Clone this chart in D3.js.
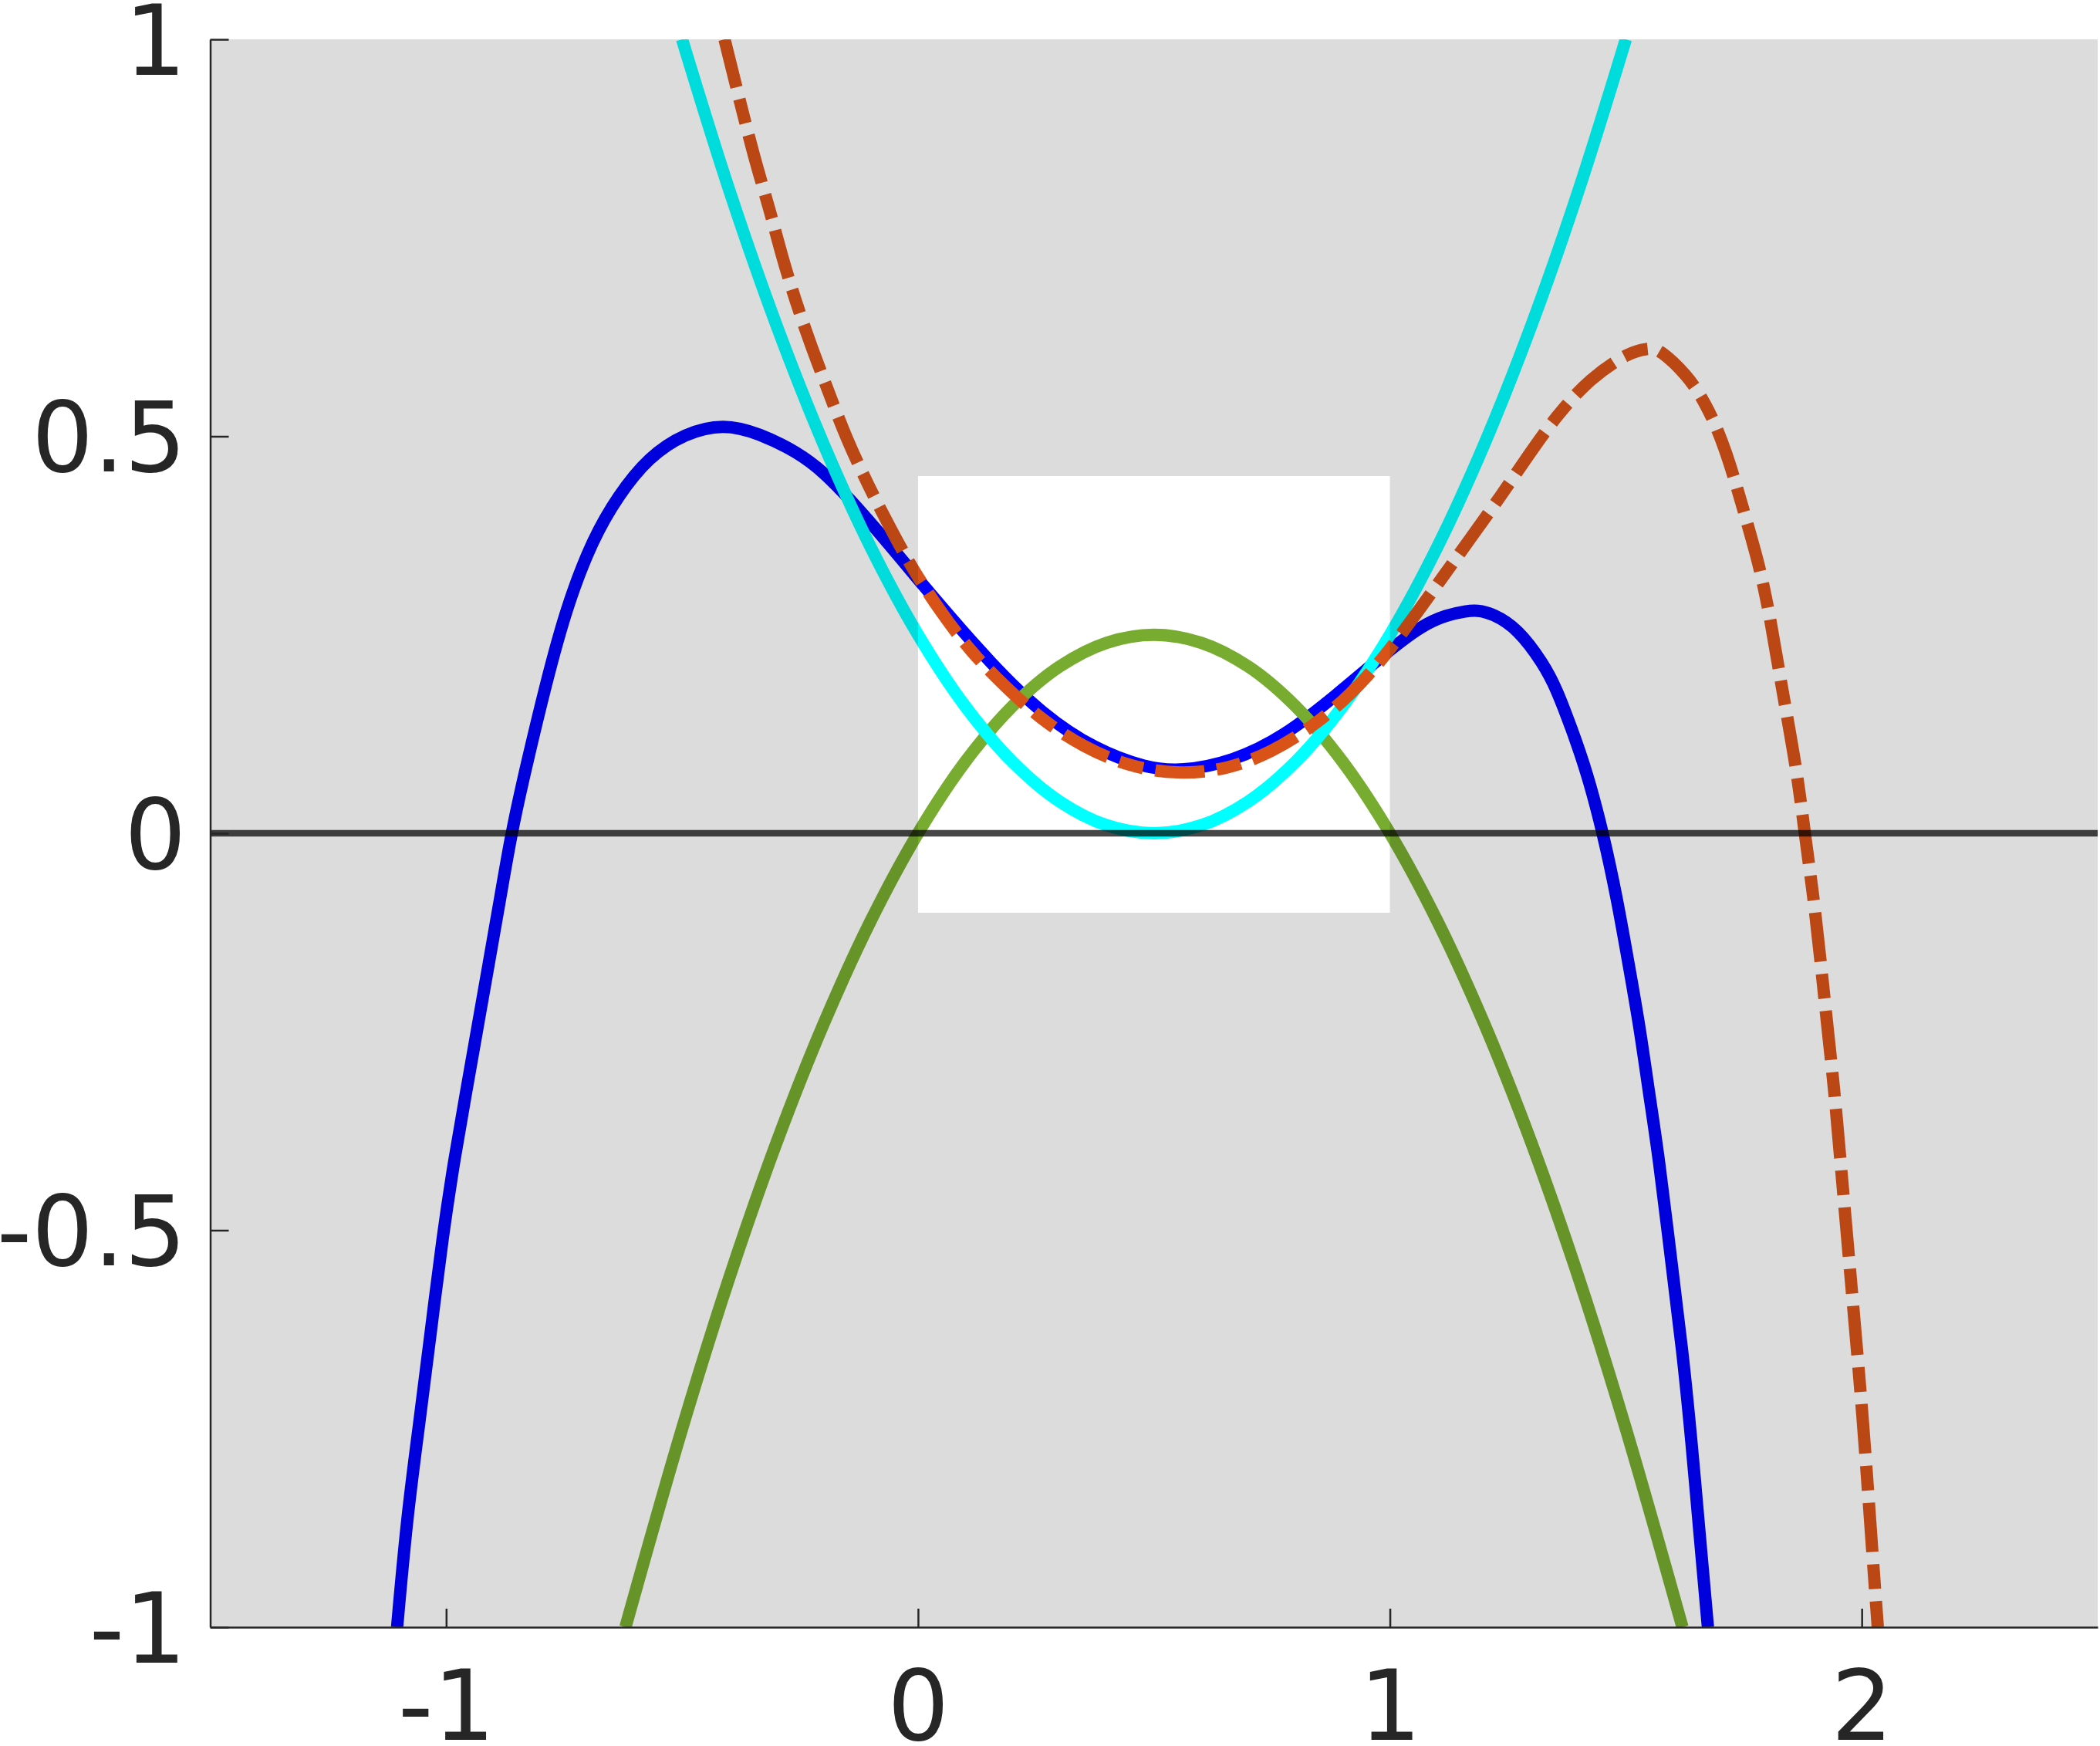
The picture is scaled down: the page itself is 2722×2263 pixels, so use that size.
<!DOCTYPE html>
<html>
<head>
<meta charset="utf-8">
<script src="https://cdn.jsdelivr.net/npm/d3@7"></script>
<style>
html, body { margin: 0; padding: 0; background: #ffffff; }
svg { display: block; }
</style>
</head>
<body>
<svg id="chart" width="2722" height="2263"></svg>
<script>
// ---------- data ----------
const xTicks = [-1, 0, 1, 2];
const xTickLabels = ["-1", "0", "1", "2"];
const yTicks = [-1, -0.5, 0, 0.5, 1];
const yTickLabels = ["-1", "-0.5", "0", "0.5", "1"];

const xDomain = [-1.5, 2.5];
const yDomain = [-1, 1];

// highlighted (white) window
const boxX = [0, 1];
const boxY = [-0.1, 0.45];

// blue solid curve
const blueX = [-1.104, -1.083, -1.058, -1.034, -1.007, -0.982, -0.958, -0.934, -0.910, -0.886,
  -0.862, -0.833, -0.788, -0.745, -0.690, -0.636, -0.571, -0.494, -0.412, -0.337,
  -0.255, -0.200, -0.146, -0.064, 0.007, 0.046, 0.155, 0.265, 0.374, 0.484,
  0.557, 0.666, 0.776, 0.885, 0.995, 1.068, 1.120, 1.162, 1.185, 1.217,
  1.271, 1.326, 1.353, 1.385, 1.417, 1.452, 1.482, 1.506, 1.530, 1.549,
  1.570, 1.596, 1.620, 1.639, 1.658, 1.674];
const blueY = [-1.0, -0.861, -0.748, -0.635, -0.505, -0.408, -0.327, -0.246, -0.165, -0.084,
  0.0, 0.078, 0.190, 0.285, 0.370, 0.425, 0.474, 0.504, 0.516, 0.504,
  0.480, 0.455, 0.422, 0.366, 0.315, 0.288, 0.213, 0.149, 0.106, 0.082,
  0.078, 0.090, 0.122, 0.173, 0.229, 0.262, 0.275, 0.280, 0.281, 0.277,
  0.258, 0.213, 0.182, 0.132, 0.078, 0.0, -0.084, -0.165, -0.246, -0.327,
  -0.408, -0.538, -0.651, -0.764, -0.894, -1.0];

// green solid curve
const greenX = [-0.62, -0.5, -0.4, -0.3, -0.2, -0.1, 0, 0.1, 0.2, 0.3, 0.4, 0.5,
  0.6, 0.7, 0.8, 0.9, 1.0, 1.1, 1.2, 1.3, 1.4, 1.5, 1.62];
const greenY = [-1.0, -0.75, -0.56, -0.39, -0.24, -0.11, 0, 0.09, 0.16, 0.21, 0.24, 0.25,
  0.24, 0.21, 0.16, 0.09, 0, -0.11, -0.24, -0.39, -0.56, -0.75, -1.0];

// cyan solid curve
const cyanX = [-0.5, -0.4, -0.3, -0.2, -0.1, 0, 0.1, 0.2, 0.3, 0.4, 0.5,
  0.6, 0.7, 0.8, 0.9, 1.0, 1.1, 1.2, 1.3, 1.4, 1.5];
const cyanY = [1.0, 0.81, 0.64, 0.49, 0.36, 0.25, 0.16, 0.09, 0.04, 0.01, 0,
  0.01, 0.04, 0.09, 0.16, 0.25, 0.36, 0.49, 0.64, 0.81, 1.0];

// orange dash-dot curve
const orangeX = [-0.410, -0.388, -0.347, -0.314, -0.290, -0.260, -0.225, -0.189, -0.151, -0.107,
  -0.058, -0.010, 0.049, 0.111, 0.184, 0.261, 0.352, 0.447, 0.549, 0.655,
  0.750, 0.838, 0.918, 0.987, 1.046, 1.187, 1.233, 1.291, 1.353, 1.424,
  1.506, 1.550, 1.571, 1.630, 1.666, 1.710, 1.767, 1.781, 1.805, 1.830,
  1.863, 1.879, 1.898, 1.913, 1.927, 1.942, 1.953, 1.978, 2.002, 2.021, 2.034];
const orangeY = [1.0, 0.947, 0.850, 0.785, 0.730, 0.671, 0.611, 0.555, 0.496, 0.440,
  0.383, 0.331, 0.278, 0.229, 0.185, 0.143, 0.108, 0.084, 0.074, 0.080,
  0.102, 0.135, 0.175, 0.221, 0.268, 0.385, 0.423, 0.474, 0.526, 0.573,
  0.606, 0.611, 0.610, 0.577, 0.545, 0.490, 0.370, 0.341, 0.276, 0.185,
  0.078, 0.0, -0.081, -0.162, -0.243, -0.324, -0.400, -0.570, -0.732, -0.894, -1.0];

// ---------- layout ----------
const W = 2722, H = 2263;
const plotLeft = 272.5, plotRight = 2719, plotTop = 51, plotBottom = 2109;
const FONT = "'DejaVu Sans', sans-serif";
const TEXT = "#262626";

const svg = d3.select("#chart");
svg.append("rect").attr("width", W).attr("height", H).attr("fill", "#ffffff");

const x = d3.scaleLinear().domain(xDomain).range([plotLeft, plotRight]);
const y = d3.scaleLinear().domain(yDomain).range([plotBottom, plotTop]);

svg.append("defs").append("clipPath").attr("id", "plotClip")
  .append("rect")
  .attr("x", plotLeft).attr("y", plotTop)
  .attr("width", plotRight - plotLeft).attr("height", plotBottom - plotTop);

const plot = svg.append("g").attr("clip-path", "url(#plotClip)");

const pts = (xs, ys) => xs.map((v, i) => [v, ys[i]]);
const makeLine = curve => d3.line().x(d => x(d[0])).y(d => y(d[1])).curve(curve);

const LW = 16;
const series = [
  { xs: blueX,   ys: blueY,   color: "#0000ff", dash: null,          curve: d3.curveBasis },
  { xs: greenX,  ys: greenY,  color: "#77ac30", dash: null,          curve: d3.curveCatmullRom },
  { xs: cyanX,   ys: cyanY,   color: "#00ffff", dash: null,          curve: d3.curveCatmullRom },
  { xs: orangeX, ys: orangeY, color: "#d95319", dash: "64,16,32,16", curve: d3.curveBasis }
];

plot.selectAll("path.curve")
  .data(series)
  .enter().append("path")
  .attr("class", "curve")
  .attr("d", s => makeLine(s.curve)(pts(s.xs, s.ys)))
  .attr("fill", "none")
  .attr("stroke", s => s.color)
  .attr("stroke-width", LW)
  .attr("stroke-linejoin", "round")
  .attr("stroke-linecap", "butt")
  .attr("stroke-dasharray", s => s.dash);

// gray shading everywhere except the highlighted window (drawn over curves)
const bx0 = x(boxX[0]), bx1 = x(boxX[1]), by0 = y(boxY[1]), by1 = y(boxY[0]);
const shade =
  `M${plotLeft},${plotTop}H${plotRight}V${plotBottom}H${plotLeft}Z ` +
  `M${bx0},${by0}H${bx1}V${by1}H${bx0}Z`;
plot.append("path")
  .attr("d", shade)
  .attr("fill", "#000000")
  .attr("fill-opacity", 0.137)
  .attr("fill-rule", "evenodd");

// zero line
plot.append("line")
  .attr("x1", x(xDomain[0])).attr("x2", x(xDomain[1]))
  .attr("y1", y(0)).attr("y2", y(0))
  .attr("stroke", "#000000")
  .attr("stroke-opacity", 0.72)
  .attr("stroke-width", 8.7);

// ---------- axes ----------
const FS = 126;
const yAxis = d3.axisLeft(y)
  .tickValues(yTicks)
  .tickFormat((d, i) => yTickLabels[i])
  .tickSizeInner(-24).tickSizeOuter(0).tickPadding(31);
const xAxis = d3.axisBottom(x)
  .tickValues(xTicks)
  .tickFormat((d, i) => xTickLabels[i])
  .tickSizeInner(-24).tickSizeOuter(0).tickPadding(57);

const gy = svg.append("g").attr("transform", `translate(${plotLeft},0)`).call(yAxis);
const gx = svg.append("g").attr("transform", `translate(0,${plotBottom})`).call(xAxis);

[gx, gy].forEach(g => {
  g.select(".domain").attr("stroke", TEXT).attr("stroke-width", 2.5);
  g.selectAll(".tick line").attr("stroke", TEXT).attr("stroke-width", 2.5);
  g.selectAll(".tick text")
    .attr("fill", TEXT)
    .style("font-family", FONT)
    .style("font-size", FS + "px");
});
gy.selectAll(".tick text").attr("dy", "0.36em");
gx.selectAll(".tick text").attr("dy", "0.71em");
</script>
</body>
</html>
